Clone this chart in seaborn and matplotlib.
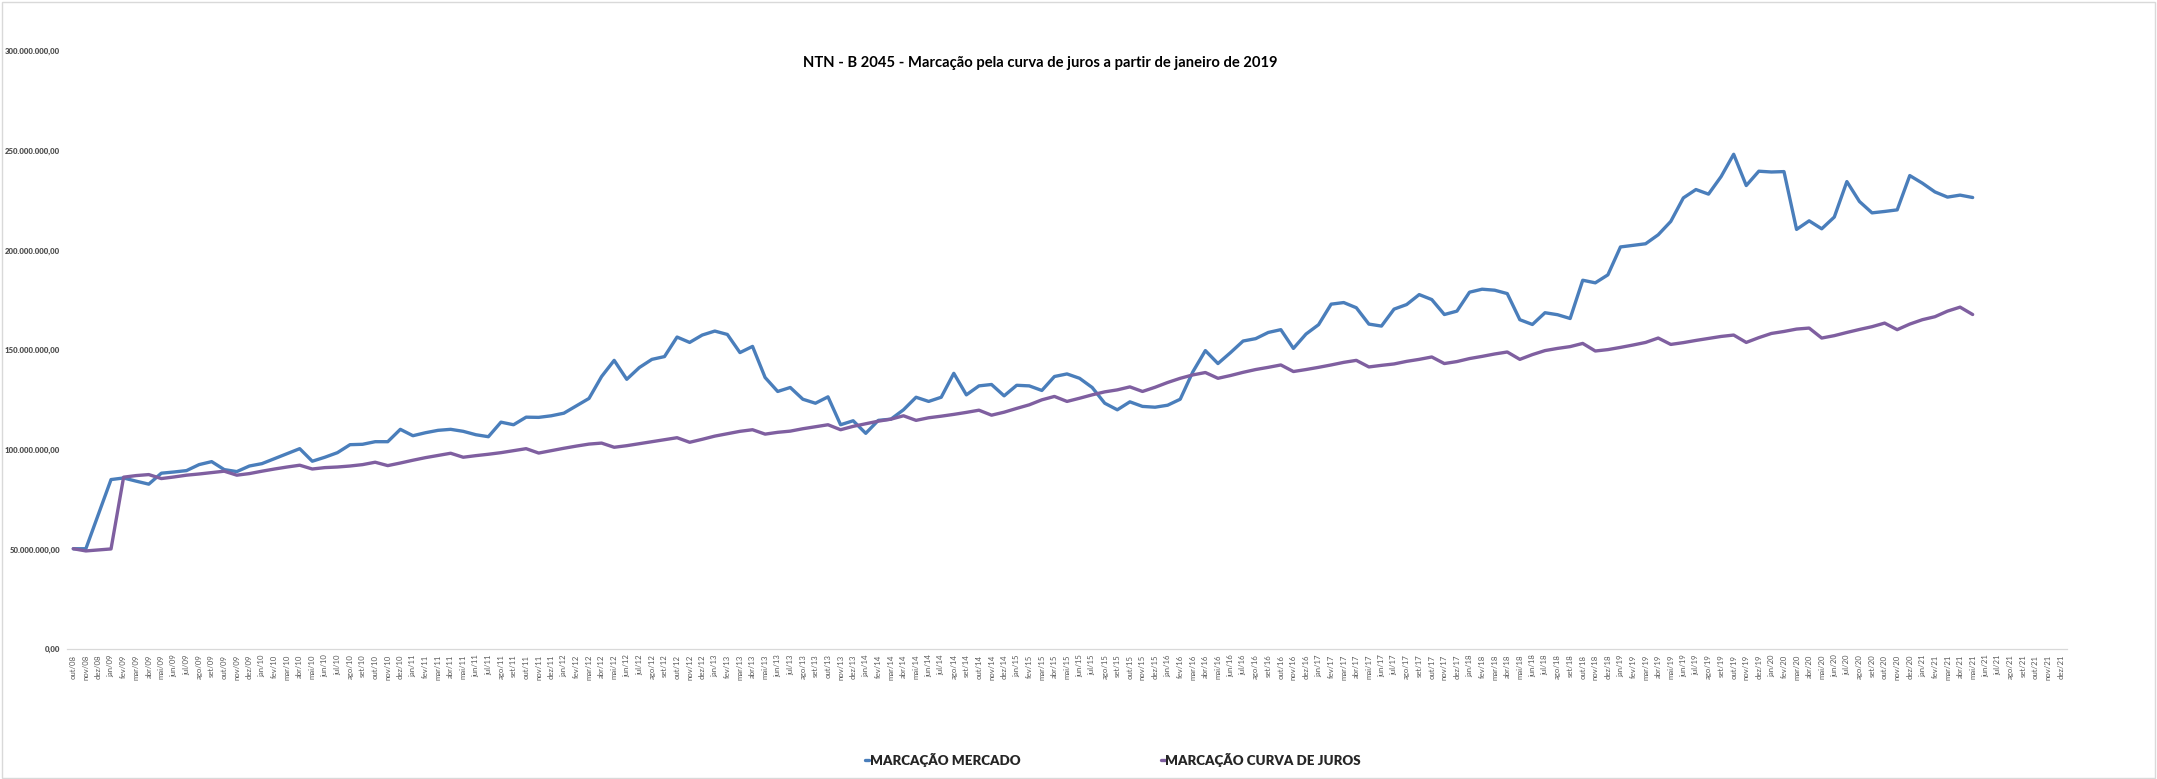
import numpy as np
import pandas as pd
import matplotlib.pyplot as plt
import seaborn as sns
from matplotlib.lines import Line2D
from matplotlib.patches import Rectangle

# meses do eixo (out/08 ate dez/21)
meses_abrev = ['jan', 'fev', 'mar', 'abr', 'mai', 'jun',
               'jul', 'ago', 'set', 'out', 'nov', 'dez']
rotulos = []
for ano in range(2008, 2022):
    for m, nome in enumerate(meses_abrev):
        if ano == 2008 and m < 9:
            continue
        rotulos.append(f"{nome}/{str(ano)[2:]}")

# valores em milhoes de R$ (out/08 ate mai/21)
mercado_mi = [50.3, 50.3, 67.7, 85.0, 85.8, 84.2, 82.7, 88.2, 88.8, 89.5,
              92.5, 94.0, 90.0, 89.0, 91.8, 93.0, 95.5, 98.0, 100.5, 94.2,
              96.2, 98.5, 102.5, 102.7, 104.0, 104.0, 110.2, 107.0, 108.5, 109.7,
              110.2, 109.2, 107.5, 106.5, 113.8, 112.5, 116.3, 116.2, 117.0, 118.3,
              122.0, 125.7, 136.7, 144.8, 135.3, 141.2, 145.3, 146.7, 156.5, 153.8,
              157.5, 159.5, 157.8, 148.7, 151.8, 136.2, 129.2, 131.2, 125.3, 123.3,
              126.5, 112.5, 114.5, 108.2, 114.7, 115.3, 120.0, 126.3, 124.2, 126.3,
              138.3, 127.5, 132.0, 132.7, 127.0, 132.3, 132.0, 129.7, 136.7, 138.0,
              135.8, 131.2, 123.3, 120.0, 124.0, 121.7, 121.3, 122.3, 125.3, 139.0,
              149.7, 143.2, 148.7, 154.5, 155.7, 158.8, 160.2, 150.8, 158.0, 162.7,
              173.0, 173.8, 171.2, 163.0, 162.0, 170.5, 172.8, 177.8, 175.3, 167.8,
              169.5, 179.0, 180.5, 180.0, 178.3, 165.2, 162.8, 168.7, 167.7, 165.8,
              185.0, 183.7, 187.7, 201.7, 202.5, 203.3, 207.8, 214.5, 226.3, 230.5,
              228.2, 237.0, 248.2, 232.5, 239.7, 239.3, 239.5, 210.5, 214.8, 210.8,
              216.7, 234.5, 224.5, 218.8, 219.5, 220.3, 237.5, 233.7, 229.3, 226.7,
              227.7, 226.5]

curva_mi = [50.3, 49.2, 49.7, 50.2, 86.2, 87.0, 87.5, 85.5, 86.3, 87.2,
            87.8, 88.5, 89.2, 87.2, 88.0, 89.2, 90.3, 91.3, 92.2, 90.3,
            91.0, 91.3, 91.8, 92.5, 93.7, 92.0, 93.3, 94.7, 96.0, 97.1,
            98.2, 96.2, 97.0, 97.7, 98.5, 99.5, 100.5, 98.3, 99.5, 100.7,
            101.8, 102.8, 103.3, 101.2, 102.0, 103.0, 104.0, 105.0, 106.0, 103.7,
            105.2, 106.8, 108.0, 109.2, 110.0, 107.8, 108.7, 109.3, 110.5, 111.5,
            112.5, 110.0, 111.7, 113.0, 114.3, 115.3, 117.0, 114.7, 116.0, 116.8,
            117.7, 118.7, 119.8, 117.3, 118.8, 120.7, 122.5, 125.0, 126.7, 124.2,
            125.8, 127.5, 129.0, 130.0, 131.5, 129.2, 131.3, 133.7, 135.8, 137.5,
            138.7, 135.8, 137.2, 138.8, 140.2, 141.3, 142.5, 139.2, 140.2, 141.3,
            142.5, 143.8, 144.8, 141.5, 142.3, 143.0, 144.3, 145.3, 146.5, 143.2,
            144.2, 145.7, 146.8, 148.0, 149.0, 145.3, 147.7, 149.7, 150.8, 151.7,
            153.3, 149.5, 150.2, 151.3, 152.5, 153.8, 156.0, 152.8, 153.7, 154.8,
            155.8, 156.8, 157.5, 153.8, 156.2, 158.3, 159.3, 160.5, 161.0, 156.0,
            157.2, 158.8, 160.3, 161.7, 163.5, 160.2, 163.0, 165.2, 166.7, 169.5,
            171.5, 167.8]

series = ['MARCAÇÃO MERCADO', 'MARCAÇÃO CURVA DE JUROS']
cores = ['#4a7ebb', '#7f5fa0']

n = len(mercado_mi)
df = pd.DataFrame({
    'pos': list(range(n)) * 2,
    'valor': np.array(mercado_mi + curva_mi) * 1e6,
    'serie': [series[0]] * n + [series[1]] * n,
})

sns.set_style('white')
plt.rcParams['font.family'] = ['Lato', 'DejaVu Sans']

W, H = 2157, 779
fig = plt.figure(figsize=(W / 100, H / 100), dpi=100)
ax = fig.add_axes([67 / W, 1 - 649 / H, 2000 / W, 598 / H])

sns.lineplot(data=df, x='pos', y='valor', hue='serie', palette=cores,
             linewidth=2.4, estimator=None, sort=False, legend=False, ax=ax)

ax.set_xlim(-0.5, len(rotulos) - 0.5)
ax.set_ylim(0, 300e6)
yticks = np.arange(0, 300e6 + 1, 50e6)
ylabels = [f"{v:,.2f}".replace(',', 'X').replace('.', ',').replace('X', '.') for v in yticks]
ax.set_yticks(yticks)
ax.set_yticklabels(ylabels, fontsize=5.6, fontweight='heavy', color='#505050')
ax.set_xticks(range(len(rotulos)))
ax.set_xticklabels(rotulos, rotation=90, fontsize=5.6, color='#595959')
ax.set_xticks(np.arange(-0.5, len(rotulos), 1), minor=True)
ax.tick_params(axis='x', which='major', length=0, pad=4)
ax.tick_params(axis='x', which='minor', length=4, color='#d9d9d9', width=0.8)
ax.tick_params(axis='y', length=0, pad=5)
ax.set_xlabel('')
ax.set_ylabel('')
for s in ['top', 'right', 'left']:
    ax.spines[s].set_visible(False)
ax.spines['bottom'].set_color('#d9d9d9')
ax.spines['bottom'].set_linewidth(0.9)
ax.grid(False)

fig.text(1040 / W, 1 - 63 / H,
         'NTN - B 2045 - Marcação pela curva de juros a partir de janeiro de 2019',
         ha='center', va='center', fontsize=10.6, fontweight='bold', color='black')

handles = [Line2D([], [], color=c, lw=2.4) for c in cores]
leg = fig.legend(handles, series, loc='center', bbox_to_anchor=(1113 / W, 1 - 760 / H),
                 ncol=2, frameon=False, handlelength=0.3, handletextpad=0.05,
                 columnspacing=10.5, fontsize=9.6)
for t in leg.get_texts():
    t.set_fontweight('heavy')

fig.add_artist(Rectangle((2 / W, 1 / H), (W - 4) / W, (H - 3) / H,
                         transform=fig.transFigure, fill=False,
                         edgecolor='#d9d9d9', lw=1))

fig.savefig('out.png', dpi=100)
